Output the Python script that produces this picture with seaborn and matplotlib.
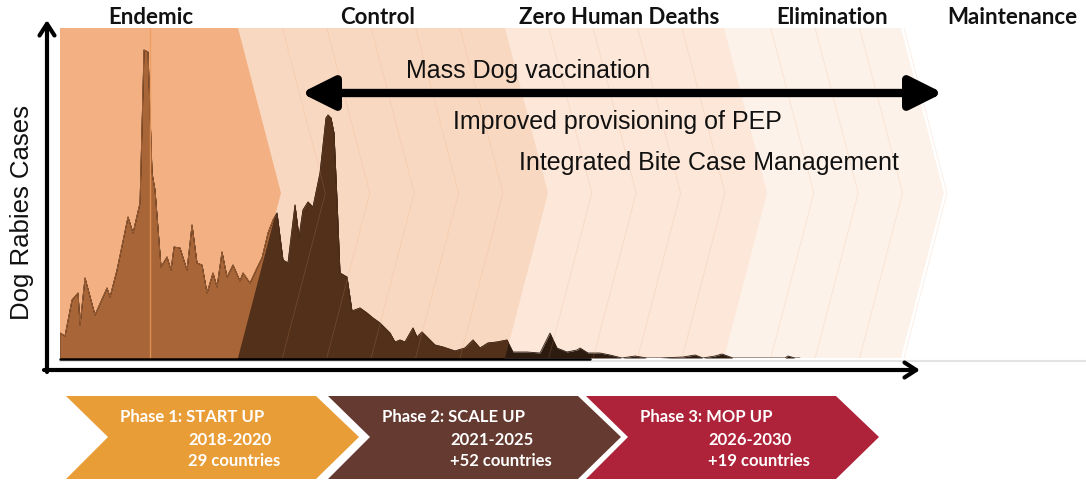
import numpy as np
import pandas as pd
import matplotlib
matplotlib.use("Agg")
import matplotlib.pyplot as plt
from matplotlib.patches import Polygon
import seaborn as sns

# time axis (weeks) and dog rabies cases
weeks = [0, 1.25, 3, 4.5, 5, 6.25, 8.75, 11.75, 12.5, 14.25, 17, 18.25, 20, 21, 22, 23,
         23.75, 25.25, 26.75, 27.75, 28.5, 30, 31.75, 33, 34.25, 35.5, 36.75, 38.25,
         39.25, 40.5, 41.75, 43.25, 45, 45.75, 47.5, 49.25, 50.5, 52, 53.25, 54.25,
         55.75, 57, 58.75, 59.75, 60.75, 62, 63.25, 65, 66.5, 67, 67.75, 68.5, 69.25,
         70, 71.75, 73, 75, 76.75, 78.25, 80, 82.5, 83.75, 85, 86.25, 88.25, 89.25,
         90.5, 92, 93.75, 95.75, 98.75, 101.25, 103.25, 105, 107, 109.25, 111.75,
         113.25, 116.75, 120, 122.5, 124.25, 126.75, 129.25, 130, 132, 135, 137.5,
         140.5, 143.75, 146.75, 150, 155.75, 158.75, 160.75, 163.75, 165.5, 168.25,
         181.25, 182, 183.75, 185]
cases = [25, 22, 58, 65, 33, 80, 43, 70, 61, 88, 141, 125, 155, 308, 306, 185,
         168, 91, 101, 88, 111, 110, 88, 133, 95, 93, 65, 85,
         71, 106, 81, 93, 77, 85, 75, 90, 100, 125, 138, 145,
         98, 95, 153, 121, 148, 156, 151, 185, 240, 243, 240, 225, 158,
         85, 81, 47, 50, 45, 40, 35, 25, 16, 18, 16, 30, 21,
         26, 20, 13, 11, 7, 10, 18, 10, 15, 16, 18,
         6, 6, 5, 25, 10, 6, 8, 10, 5, 5, 3,
         0, 2, 0, 0, 1, 3, 0, 2, 4, 0,
         0, 2, 0, 0]

stages = ["Endemic", "Control", "Zero Human Deaths", "Elimination", "Maintenance"]
stage_x = [151, 378, 619, 832, 1012]

measures = ["Mass Dog vaccination", "Improved provisioning of PEP",
            "Integrated Bite Case Management"]

phase_titles = ["Phase 1: START UP", "Phase 2: SCALE UP", "Phase 3: MOP UP"]
phase_years = ["2018-2020", "2021-2025", "2026-2030"]
phase_countries = ["29 countries", "+52 countries", "+19 countries"]
phase_colors = ["#E99D36", "#653A30", "#AE2339"]

band_colors = ["#F3B183", "#F9D8C1", "#FCE7D9", "#FDF2E9"]
band_edges = [238, 505, 724, 901]   # top-right corner x of each chevron band

df = pd.DataFrame({"week": weeks, "cases": cases})

sns.set_theme(style="white")
plt.rcParams["font.family"] = ["Liberation Sans", "DejaVu Sans"]

W, H = 1086, 484
fig = plt.figure(figsize=(W / 100, H / 100), dpi=100)

# background axes in pixel coordinates
ax_bg = fig.add_axes([0, 0, 1, 1])
ax_bg.set_xlim(0, W)
ax_bg.set_ylim(H, 0)
ax_bg.axis("off")

top, mid, bot = 28, 193, 358
tip = 43


def chevron(x_top):
    return [(60, top), (x_top, top), (x_top + tip, mid), (x_top, bot), (60, bot)]


for x_top, col in reversed(list(zip(band_edges, band_colors))):
    ax_bg.add_patch(Polygon(chevron(x_top), closed=True, color=col, lw=0, zorder=1))

# series axes
L, R = 60, 944
ax_s = fig.add_axes([L / W, (H - bot) / H, (R - L) / W, (bot - top) / H])
ax_s.set_xlim(0, (R - L) / 4)
ax_s.set_ylim(0, bot - top)
ax_s.patch.set_alpha(0)
ax_s.axis("off")


def clip_poly(x_top):
    return Polygon([(0, 0), (x_top, 0), (x_top, top), (x_top + tip, mid),
                    (x_top, bot), (x_top - 3, 372), (0, 372)],
                   closed=True, transform=ax_bg.transData)


layers = [("#2D1B0F", None), ("#52301A", band_edges[1]), ("#A86537", band_edges[0])]
for col, edge in layers:
    f = ax_s.fill_between(df["week"], 0, df["cases"], color=col, lw=0)
    sns.lineplot(data=df, x="week", y="cases", ax=ax_s, color=col, lw=0.6)
    line = ax_s.lines[-1]
    if edge is not None:
        f.set_clip_path(clip_poly(edge))
        line.set_clip_path(clip_poly(edge))

# overlay axes for decorations and text
ax_o = fig.add_axes([0, 0, 1, 1])
ax_o.set_xlim(0, W)
ax_o.set_ylim(H, 0)
ax_o.patch.set_alpha(0)
ax_o.axis("off")

# faint chevron lines inside the bands
for k in range(1, 16):
    xt = band_edges[0] + 44.4 * k
    if abs(xt - 505) < 8 or abs(xt - 724) < 8 or xt > 905:
        continue
    ax_o.plot([xt, xt + tip, xt], [top, mid, bot], color="#E9A271", lw=0.6, alpha=0.2)
ax_o.plot([150, 150], [top, bot], color="#EE9A5C", lw=1.0, alpha=0.8)

# baselines
ax_o.plot([60, W], [361, 361], color="#E3E3E3", lw=1.5)
ax_o.plot([60, 590], [358.5, 358.5], color="black", lw=1.8)

# axis arrows
ax_o.annotate("", xy=(47, 20), xytext=(47, 372),
              arrowprops=dict(arrowstyle="->,head_length=0.7,head_width=0.45",
                              lw=3, color="black", shrinkA=0, shrinkB=0))
ax_o.annotate("", xy=(920, 370), xytext=(44, 370),
              arrowprops=dict(arrowstyle="->,head_length=0.7,head_width=0.45",
                              lw=3, color="black", shrinkA=0, shrinkB=0))

# double arrow for mass dog vaccination
ax_o.annotate("", xy=(943, 93), xytext=(301, 93),
              arrowprops=dict(arrowstyle="<|-|>,head_length=1.1,head_width=0.55",
                              lw=6, color="black", shrinkA=0, shrinkB=0,
                              mutation_scale=18))

ax_o.text(22, 213, "Dog Rabies Cases", rotation=90, ha="center", va="center",
          fontsize=18.5, color="#111111")

for name, x in zip(stages, stage_x):
    ax_o.text(x, 18, name, ha="center", va="center", fontsize=16,
              fontweight="bold", family=["Lato", "DejaVu Sans"], color="#111111")

ax_o.text(528, 71, measures[0], ha="center", va="center", fontsize=18, color="#111111")
ax_o.text(617, 122, measures[1], ha="center", va="center", fontsize=18, color="#111111")
ax_o.text(709, 163, measures[2], ha="center", va="center", fontsize=18, color="#111111")

# phase chevrons
phase_left = [66, 328, 586]
for i, x0 in enumerate(phase_left):
    w = 250
    pts = [(x0, 396), (x0 + w, 396), (x0 + w + 43, 437), (x0 + w, 479),
           (x0, 479), (x0 + 42, 437)]
    ax_o.add_patch(Polygon(pts, closed=True, color=phase_colors[i], lw=0))
    ax_o.text(x0 + 54, 417, phase_titles[i], ha="left", va="center", fontsize=12,
              fontweight="bold", color="white", family=["Lato", "DejaVu Sans"])
    ax_o.text(x0 + 122, 440, phase_years[i], ha="left", va="center", fontsize=12,
              fontweight="bold", color="white", family=["Lato", "DejaVu Sans"])
    ax_o.text(x0 + 122, 461, phase_countries[i], ha="left", va="center", fontsize=12,
              fontweight="bold", color="white", family=["Lato", "DejaVu Sans"])

fig.savefig("out.png", dpi=100)
